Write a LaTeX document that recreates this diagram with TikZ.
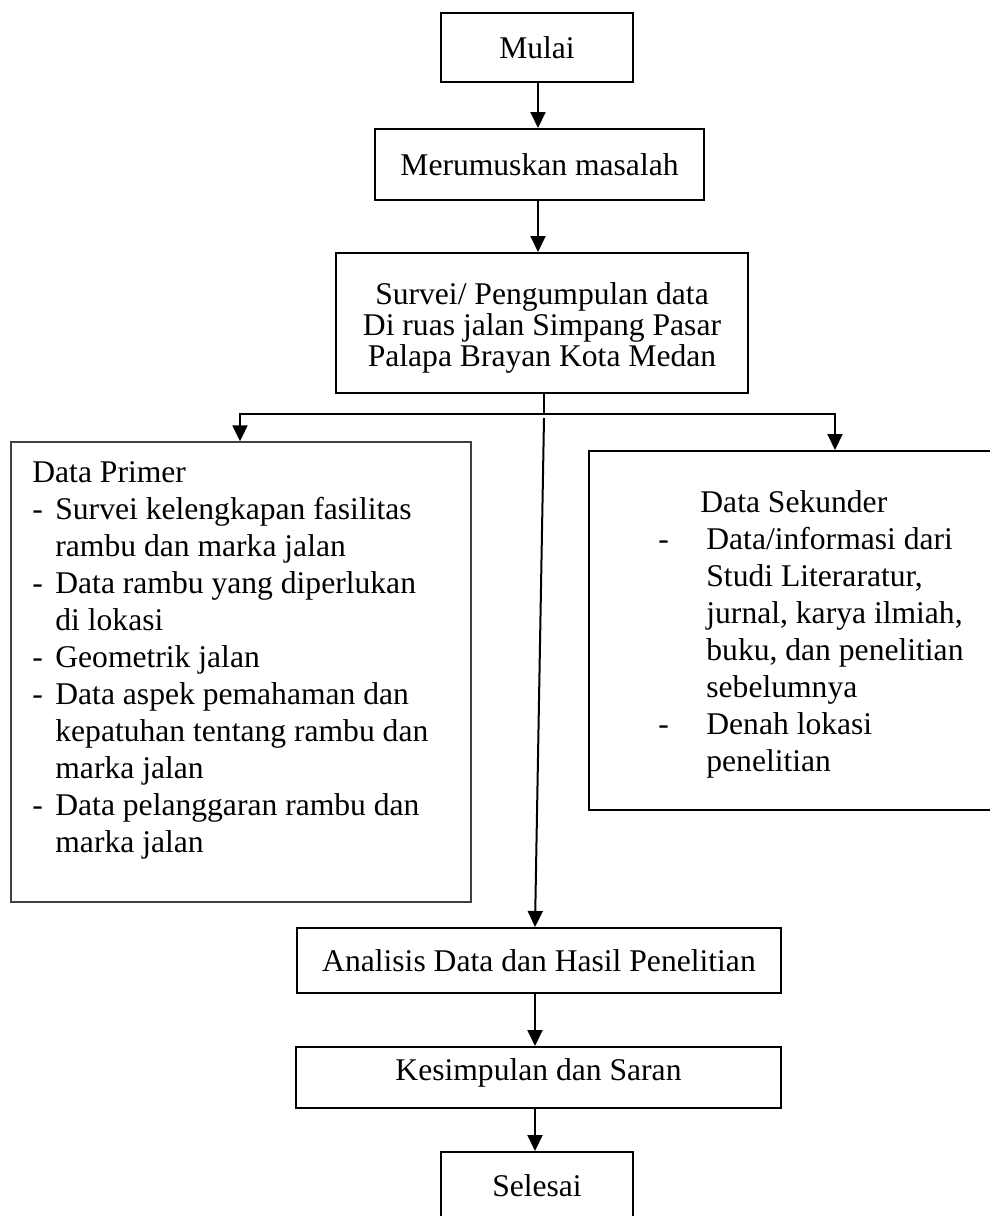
\documentclass[tikz,border=0pt]{standalone}
\usepackage{fontspec}
\setmainfont{Liberation Serif}
\usetikzlibrary{arrows.meta}
\begin{document}
\begin{tikzpicture}[x=0.5pt,y=-0.5pt,
  box/.style={draw,line width=1pt,inner sep=0pt,font=\fontsize{15.8}{15.5}\selectfont,align=center},
  thinbox/.style={draw=black!75,line width=0.7pt,inner sep=0pt},
  txt/.style={inner sep=0pt,anchor=base west,font=\fontsize{15.8}{18.5}\selectfont},
  arr/.style={line width=1pt,-{Triangle[width=7.5pt,length=8pt]}},
  ln/.style={line width=1pt}]
\useasboundingbox (0,0) rectangle (990,1216);
\clip (0,0) rectangle (990,1216);
% boxes
\node[box,minimum width=96pt,minimum height=34.5pt] (mulai) at (537,47.5) {Mulai};
\node[box,minimum width=164.5pt,minimum height=35.5pt] (merum) at (539.5,164.5) {Merumuskan masalah};
\node[box,minimum width=206pt,minimum height=70pt] (survei) at (542,323) {\rule{0pt}{15.8pt}Survei/ Pengumpulan data\\Di ruas jalan Simpang Pasar\\Palapa Brayan Kota Medan};
\node[thinbox,minimum width=230pt,minimum height=230pt] (primer) at (241,672) {};
\node[box,minimum width=205.5pt,minimum height=179.5pt] (sekunder) at (794.5,630.5) {};
\node[box,minimum width=242pt,minimum height=32.5pt] (analisis) at (539,960.5) {Analisis Data dan Hasil Penelitian};
\node[box,minimum width=242.5pt,minimum height=30.5pt] (kesim) at (538.5,1077.5) {\rule[-8.4pt]{0pt}{8.4pt}Kesimpulan dan Saran};
\node[box,minimum width=96pt,minimum height=34pt] (selesai) at (537,1186) {Selesai};
% texts of list boxes
\node[txt] (ptext) at (32,482) {\begin{tabular}[t]{@{}l@{}}
Data Primer\\
\makebox[11.5pt][l]{-}Survei kelengkapan fasilitas\\
\hspace*{11.5pt}rambu dan marka jalan\\
\makebox[11.5pt][l]{-}Data rambu yang diperlukan\\
\hspace*{11.5pt}di lokasi\\
\makebox[11.5pt][l]{-}Geometrik jalan\\
\makebox[11.5pt][l]{-}Data aspek pemahaman dan\\
\hspace*{11.5pt}kepatuhan tentang rambu dan\\
\hspace*{11.5pt}marka jalan\\
\makebox[11.5pt][l]{-}Data pelanggaran rambu dan\\
\hspace*{11.5pt}marka jalan
\end{tabular}};
\node[txt] (stext) at (658,512) {\begin{tabular}[t]{@{}l@{}}
\hspace*{21pt}Data Sekunder\\
\makebox[24pt][l]{-}Data/informasi dari\\
\hspace*{24pt}Studi Literaratur,\\
\hspace*{24pt}jurnal, karya ilmiah,\\
\hspace*{24pt}buku, dan penelitian\\
\hspace*{24pt}sebelumnya\\
\makebox[24pt][l]{-}Denah lokasi\\
\hspace*{24pt}penelitian
\end{tabular}};
% helper coordinates
\coordinate (tx) at (538,0);
\coordinate (ax) at (535,0);
\coordinate (j) at (544,413.5);
\coordinate (cs) at (544,418);
\coordinate (pl) at (240,0);
\coordinate (pr) at (835,0);
% connectors
\draw[arr] (mulai.south -| tx) -- (merum.north -| tx);
\draw[arr] (merum.south -| tx) -- (survei.north -| tx);
\draw[ln] (survei.south -| j) -- (j);
\draw[arr] (j) -| (pl |- primer.north);
\draw[arr] (j) -| (pr |- sekunder.north);
\draw[arr] (cs) -- (analisis.north -| ax);
\draw[arr] (analisis.south -| ax) -- (kesim.north -| ax);
\draw[arr] (kesim.south -| ax) -- (selesai.north -| ax);
\end{tikzpicture}
\end{document}
